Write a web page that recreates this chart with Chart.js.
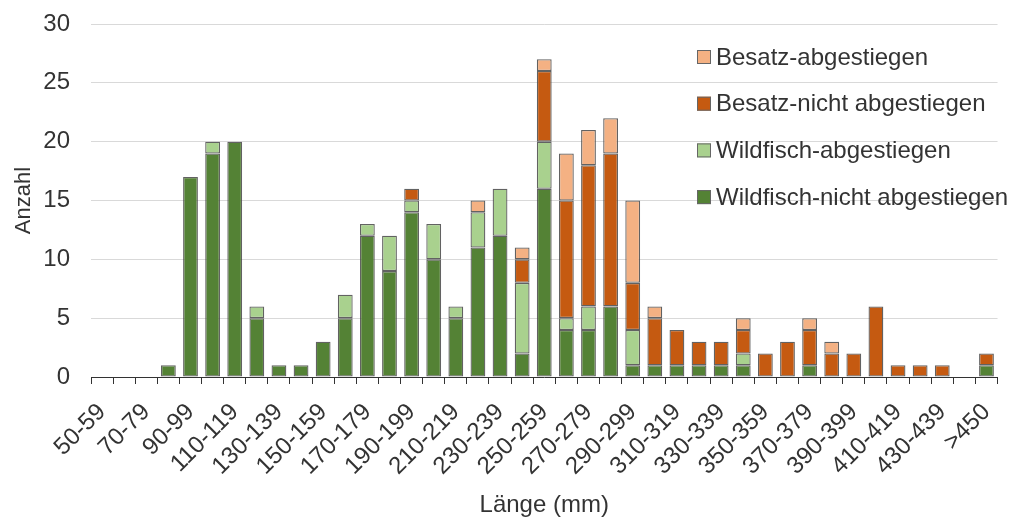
<!DOCTYPE html>
<html>
<head>
<meta charset="utf-8">
<script src="https://cdn.jsdelivr.net/npm/chart.js@4.4.1/dist/chart.umd.min.js"></script>
<style>
  html, body { margin: 0; padding: 0; background: #fff; }
  #wrap { width: 1021px; height: 522px; position: relative; }
</style>
</head>
<body>
<div id="wrap"><canvas id="c" width="1021" height="522"></canvas></div>
<script>
// Length classes (mm)
const categories = [
  '50-59','60-69','70-79','80-89','90-99','100-109','110-119','120-129','130-139','140-149',
  '150-159','160-169','170-179','180-189','190-199','200-209','210-219','220-229','230-239','240-249',
  '250-259','260-269','270-279','280-289','290-299','300-309','310-319','320-329','330-339','340-349',
  '350-359','360-369','370-379','380-389','390-399','400-409','410-419','420-429','430-439','440-449',
  '>450'
];

// Counts per length class
const wildNicht = [0,0,0,1,17,19,20,5,1,1, 3,5,12,9,14,10,5,11,12,2, 16,4,4,6,1,1,1,1,1,1, 0,0,1,0,0,0,0,0,0,0, 1];
const wildAb    = [0,0,0,0,0,1,0,1,0,0, 0,2,1,3,1,3,1,3,4,6, 4,1,2,0,3,0,0,0,0,1, 0,0,0,0,0,0,0,0,0,0, 0];
const besatzNicht = [0,0,0,0,0,0,0,0,0,0, 0,0,0,0,1,0,0,0,0,2, 6,10,12,13,4,4,3,2,2,2, 2,3,3,2,2,6,1,1,1,0, 1];
const besatzAb  = [0,0,0,0,0,0,0,0,0,0, 0,0,0,0,0,0,0,1,0,1, 1,4,3,3,7,1,0,0,0,1, 0,0,1,1,0,0,0,0,0,0, 0];

const seriesNames = ['Wildfisch-nicht abgestiegen','Wildfisch-abgestiegen','Besatz-nicht abgestiegen','Besatz-abgestiegen'];
const seriesColors = ['#548235','#A9D18E','#C55A11','#F4B183'];
const yTicks = [0,5,10,15,20,25,30];

const FONT = "'Liberation Sans', Arial, sans-serif";
const TEXT = '#333333';

// Legend drawn inside the plot, top series first
const insideLegend = {
  id: 'insideLegend',
  afterDatasetsDraw(chart, args, opts) {
    const ctx = chart.ctx;
    const ds = chart.data.datasets.slice().reverse();
    ctx.save();
    ctx.font = opts.size + 'px ' + FONT;
    ctx.textBaseline = 'middle';
    ctx.textAlign = 'left';
    ds.forEach((d, i) => {
      const y = opts.y + i * opts.step;
      ctx.fillStyle = d.backgroundColor;
      ctx.fillRect(opts.x, y - opts.box / 2, opts.box, opts.box);
      ctx.strokeStyle = '#666';
      ctx.lineWidth = 1;
      ctx.strokeRect(opts.x + 0.5, y - opts.box / 2 + 0.5, opts.box - 1, opts.box - 1);
      ctx.fillStyle = TEXT;
      ctx.fillText(d.label, opts.x + opts.box + 5, y + 1);
    });
    ctx.restore();
  }
};

const values = [wildNicht, wildAb, besatzNicht, besatzAb];

new Chart(document.getElementById('c'), {
  type: 'bar',
  data: {
    labels: categories,
    datasets: values.map((v, i) => ({
      label: seriesNames[i],
      data: v,
      backgroundColor: seriesColors[i],
      borderColor: 'rgba(70,70,70,0.85)',
      borderWidth: 1.3,
      borderSkipped: false,
      barPercentage: 0.67,
      categoryPercentage: 1.0
    }))
  },
  options: {
    responsive: false,
    animation: false,
    layout: { padding: { top: 24, right: 13, left: 0, bottom: 0 } },
    plugins: {
      legend: { display: false },
      tooltip: { enabled: false },
      insideLegend: { x: 697, y: 57, step: 46.7, box: 14, size: 24 }
    },
    scales: {
      x: {
        stacked: true,
        offset: true,
        grid: {
          display: true,
          offset: true,
          drawOnChartArea: false,
          drawTicks: true,
          tickLength: 7,
          color: '#333'
        },
        border: { display: true, color: '#333', width: 1 },
        ticks: {
          autoSkip: false,
          minRotation: 45,
          maxRotation: 45,
          padding: 14,
          color: TEXT,
          font: { family: FONT, size: 24 },
          callback: function(val, idx) { return idx % 2 === 0 ? categories[idx] : ''; }
        },
        title: {
          display: true,
          text: 'Länge (mm)',
          color: TEXT,
          font: { family: FONT, size: 24 },
          padding: { top: 0, bottom: 2 }
        },
        afterFit(scale) { scale.height = 145; }
      },
      y: {
        stacked: true,
        min: 0,
        max: 30,
        afterBuildTicks(scale) { scale.ticks = yTicks.map(v => ({ value: v })); },
        grid: { color: '#d9d9d9', lineWidth: 1, drawTicks: false },
        border: { display: false },
        ticks: {
          padding: 21,
          color: TEXT,
          font: { family: FONT, size: 24 }
        },
        title: {
          display: true,
          text: 'Anzahl',
          color: TEXT,
          font: { family: FONT, size: 22 },
          padding: { top: 11, bottom: 0 }
        },
        afterFit(scale) {
          scale.width = 91;
          scale.paddingTop = 0;
          scale.paddingBottom = 0;
        }
      }
    }
  },
  plugins: [insideLegend]
});
</script>
</body>
</html>
